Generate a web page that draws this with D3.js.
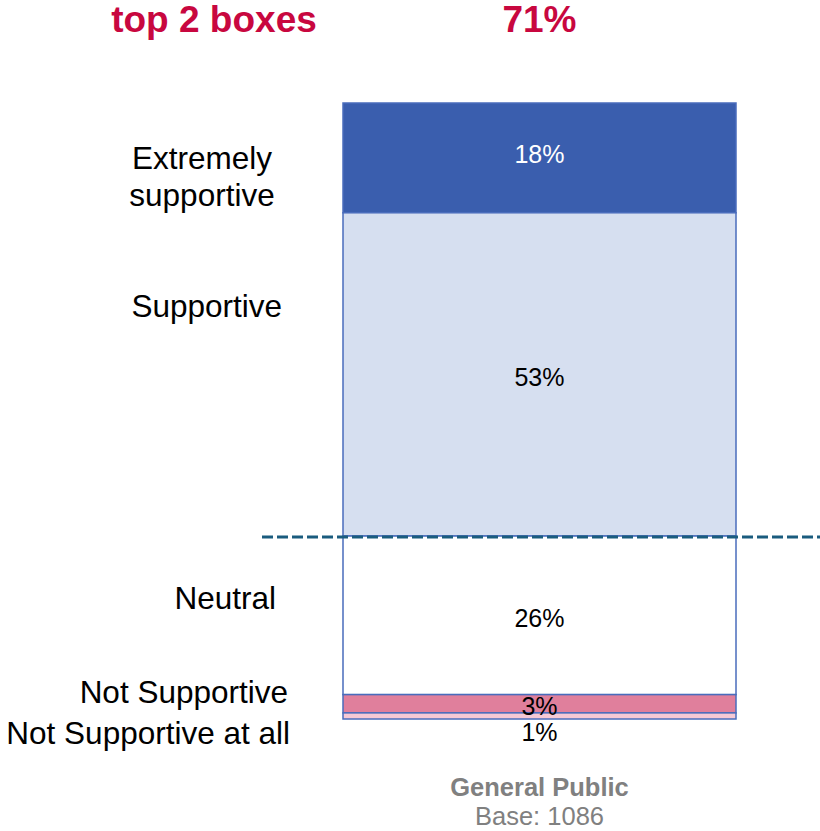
<!DOCTYPE html>
<meta charset="utf-8">
<script src="https://d3js.org/d3.v7.min.js"></script>
<style>
  body { margin: 0; background: #fff; }
  text { font-family: "Liberation Sans", Arial, sans-serif; }
</style>
<div id="chart"></div>
<script>
  // data
  var groups = ["General Public"];
  var bases = [1086];
  var categories = ["Extremely supportive", "Supportive", "Neutral", "Not Supportive", "Not Supportive at all"];
  var values = [18, 53, 26, 3, 1];
  var colors = ["#3a5eae", "#d6dff0", "#ffffff", "#e07f9c", "#f6c9d5"];
  var labelColors = ["#ffffff", "#000000", "#000000", "#000000", "#000000"];
  var topBoxes = 71;

  var width = 820, height = 831;

  var svg = d3.select("#chart")
    .append("svg")
      .attr("width", width)
      .attr("height", height);

  var x = d3.scaleBand()
    .domain(groups)
    .range([343, 736])
    .padding(0);

  var y = d3.scaleLinear()
    .domain([0, d3.sum(values)])
    .range([103, 719]);

  var stacked = [];
  var acc = 0;
  values.forEach(function(v, i) {
    stacked.push({cat: categories[i], v: v, y0: acc, y1: acc + v, fill: colors[i], tc: labelColors[i]});
    acc += v;
  });

  var cx = x(groups[0]) + x.bandwidth() / 2;
  var g = svg.append("g");

  g.selectAll("rect.seg")
    .data(stacked)
    .enter().append("rect")
      .attr("class", "seg")
      .attr("x", x(groups[0]))
      .attr("width", x.bandwidth())
      .attr("y", function(d) { return y(d.y0); })
      .attr("height", function(d) { return y(d.y1) - y(d.y0); })
      .attr("fill", function(d) { return d.fill; })
      .attr("stroke", "#4a6cbc")
      .attr("stroke-width", 1.5);

  // value labels, the last one sits below the thin slice
  g.selectAll("text.val")
    .data(stacked)
    .enter().append("text")
      .attr("class", "val")
      .attr("x", cx)
      .attr("y", function(d, i) {
        if (i == stacked.length - 1) return y(d.y1) + 15;
        if (i == 0) return (y(d.y0) + y(d.y1)) / 2 - 2;
        return (y(d.y0) + y(d.y1)) / 2 + 5;
      })
      .attr("text-anchor", "middle")
      .attr("dominant-baseline", "middle")
      .attr("font-size", 25)
      .attr("fill", function(d) { return d.tc; })
      .text(function(d) { return d.v + "%"; });

  // top-2-box cut line
  svg.append("line")
    .attr("x1", 262)
    .attr("x2", 820)
    .attr("y1", y(topBoxes) + 1)
    .attr("y2", y(topBoxes) + 1)
    .attr("stroke", "#1a5c7e")
    .attr("stroke-width", 3)
    .attr("stroke-dasharray", "11,4");

  // category labels on the left
  var lab = svg.append("g")
    .attr("font-size", 31.5)
    .attr("fill", "#000");

  var ex = lab.append("text")
    .attr("text-anchor", "middle")
    .attr("x", 202);
  ex.append("tspan").attr("x", 202).attr("y", y(9.0)).attr("dy", "0.35em").text("Extremely");
  ex.append("tspan").attr("x", 202).attr("y", y(15.1)).attr("dy", "0.35em").text("supportive");

  var catPos = [
    {t: categories[1], at: 33.3, x: 282},
    {t: categories[2], at: 81.2, x: 276},
    {t: categories[3], at: 96.6, x: 288},
    {t: categories[4], at: 103.3, x: 290}
  ];
  lab.selectAll("text.cat")
    .data(catPos)
    .enter().append("text")
      .attr("class", "cat")
      .attr("text-anchor", "end")
      .attr("x", function(d) { return d.x; })
      .attr("y", function(d) { return y(d.at); })
      .attr("dy", "0.35em")
      .text(function(d) { return d.t; });

  // header
  svg.append("text")
    .attr("x", 214)
    .attr("y", 32)
    .attr("text-anchor", "middle")
    .attr("font-size", 37)
    .attr("font-weight", "bold")
    .attr("fill", "#c8073f")
    .text("top 2 boxes");

  svg.append("text")
    .attr("x", cx)
    .attr("y", 32)
    .attr("text-anchor", "middle")
    .attr("font-size", 37)
    .attr("font-weight", "bold")
    .attr("fill", "#c8073f")
    .text(topBoxes + "%");

  // group label and base
  svg.append("text")
    .attr("x", cx)
    .attr("y", 796)
    .attr("text-anchor", "middle")
    .attr("font-size", 25.5)
    .attr("font-weight", "bold")
    .attr("fill", "#808080")
    .text(groups[0]);

  svg.append("text")
    .attr("x", cx)
    .attr("y", 825)
    .attr("text-anchor", "middle")
    .attr("font-size", 25.5)
    .attr("fill", "#808080")
    .text("Base: " + bases[0]);
</script>
